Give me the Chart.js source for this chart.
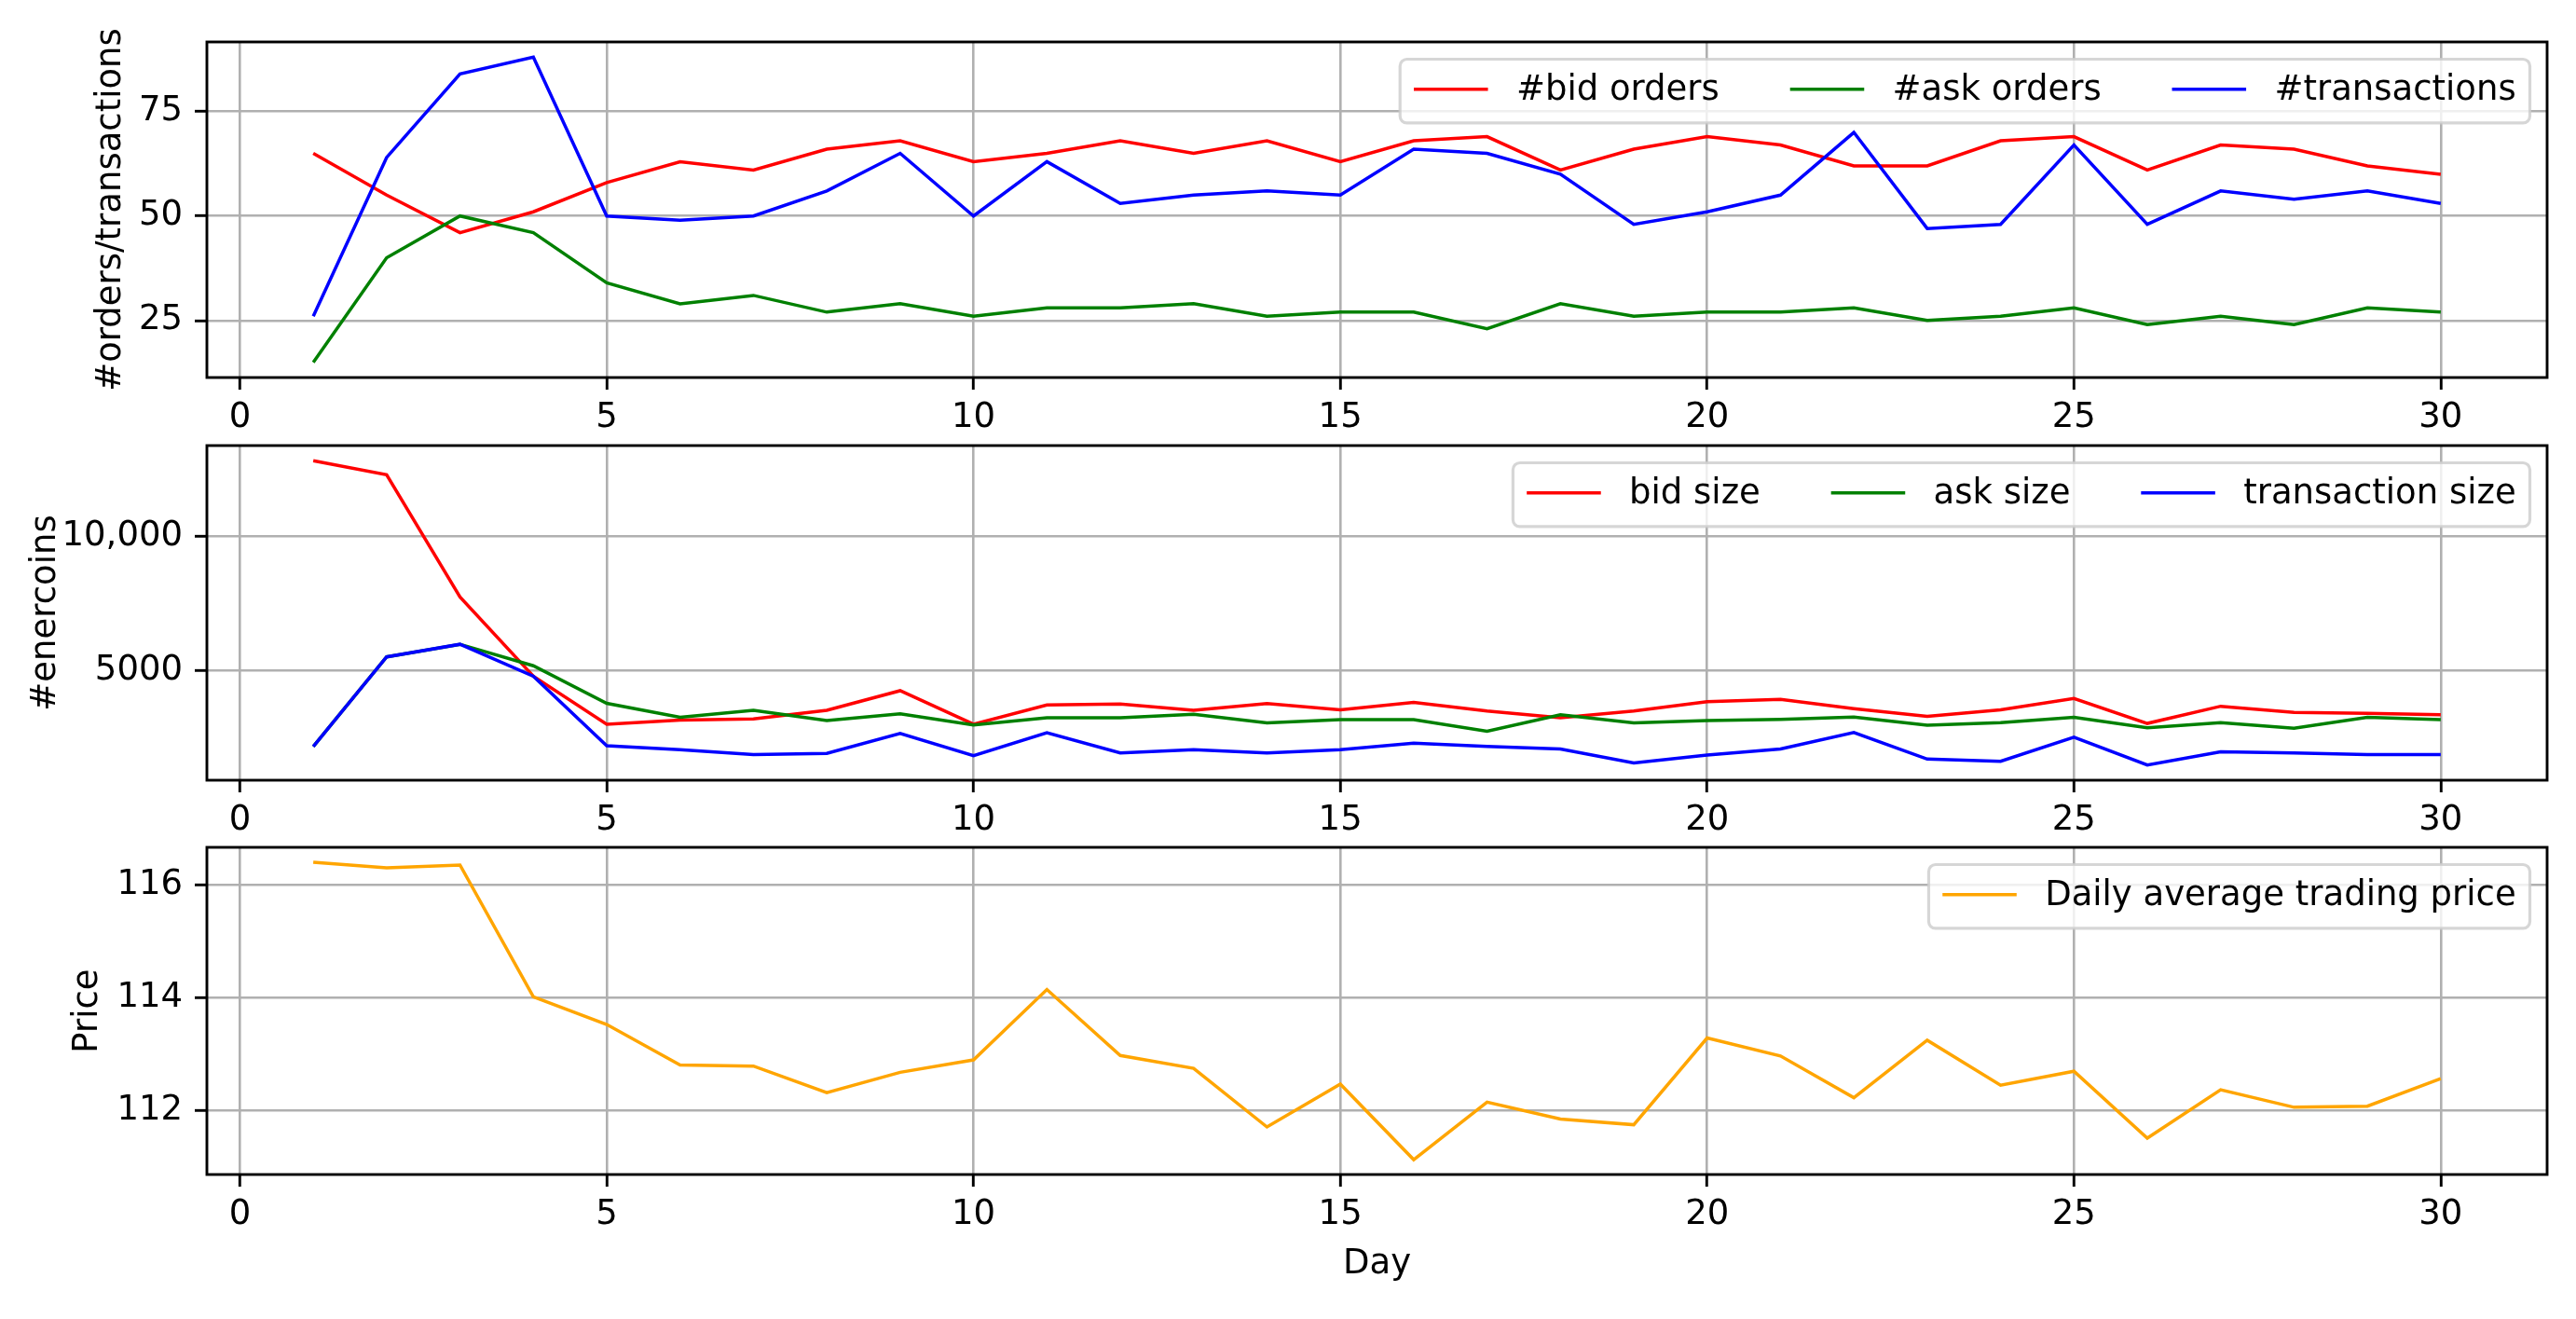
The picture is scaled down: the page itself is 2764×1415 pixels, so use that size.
<!DOCTYPE html>
<html>
<head>
<meta charset="utf-8">
<script src="https://cdn.jsdelivr.net/npm/chart.js@4.4.1/dist/chart.umd.min.js"></script>
<style>
  html, body { margin: 0; padding: 0; background: #fff; }
  #fig { position: relative; width: 2764px; height: 1415px; background: #fff; }
  #fig canvas { position: absolute; left: 0; top: 0; }
</style>
</head>
<body>
<div id="fig">
  <canvas id="orders" width="2764" height="1415"></canvas>
  <canvas id="sizes" width="2764" height="1415"></canvas>
  <canvas id="price" width="2764" height="1415"></canvas>
</div>
<script>
// values
const days = [1, 2, 3, 4, 5, 6, 7, 8, 9, 10, 11, 12, 13, 14, 15, 16, 17, 18, 19, 20, 21, 22, 23, 24, 25, 26, 27, 28, 29, 30];

const bidOrders = [65, 55, 46, 51, 58, 63, 61, 66, 68, 63, 65, 68, 65, 68, 63, 68, 69, 61, 66, 69, 67, 62, 62, 68, 69, 61, 67, 66, 62, 60];
const askOrders = [15, 40, 50, 46, 34, 29, 31, 27, 29, 26, 28, 28, 29, 26, 27, 27, 23, 29, 26, 27, 27, 28, 25, 26, 28, 24, 26, 24, 28, 27];
const transactions = [26, 64, 84, 88, 50, 49, 50, 56, 65, 50, 63, 53, 55, 56, 55, 66, 65, 60, 48, 51, 55, 70, 47, 48, 67, 48, 56, 54, 56, 53];

const bidSize = [12830, 12310, 7750, 4800, 3010, 3160, 3210, 3530, 4260, 3010, 3730, 3760, 3530, 3780, 3550, 3820, 3500, 3250, 3500, 3850, 3940, 3590, 3300, 3550, 3970, 3040, 3680, 3450, 3420, 3360];
const askSize = [2180, 5520, 5990, 5190, 3790, 3270, 3530, 3150, 3400, 2980, 3250, 3250, 3380, 3060, 3180, 3180, 2750, 3360, 3060, 3150, 3190, 3280, 2970, 3070, 3270, 2880, 3070, 2860, 3270, 3180];
const txSize = [2180, 5520, 5990, 4800, 2210, 2060, 1880, 1920, 2670, 1840, 2690, 1940, 2060, 1940, 2060, 2300, 2180, 2090, 1570, 1860, 2090, 2700, 1710, 1630, 2530, 1490, 1980, 1940, 1880, 1880];

const avgPrice = [116.41, 116.31, 116.36, 114.02, 113.53, 112.81, 112.79, 112.32, 112.68, 112.90, 114.15, 112.98, 112.75, 111.71, 112.47, 111.13, 112.15, 111.85, 111.75, 113.29, 112.97, 112.23, 113.25, 112.45, 112.70, 111.51, 112.37, 112.06, 112.08, 112.57];

const dayTicks = [0, 5, 10, 15, 20, 25, 30];
const orderTicks = [25, 50, 75];
const sizeTicks = [5000, 10000];
const sizeTickLabels = ['5000', '10,000'];
const priceTicks = [112, 114, 116];

const FS = 37;
const W = 2764, H = 1415;
const PLOT_LEFT = 222, PLOT_RIGHT = 2733;

Chart.defaults.font.family = '"DejaVu Sans", sans-serif';
Chart.defaults.font.size = FS;
Chart.defaults.color = '#000';

// matplotlib-ish autoscale: 5% margins
function padRange(arrays) {
  const all = [].concat(...arrays);
  const lo = Math.min(...all), hi = Math.max(...all);
  const m = (hi - lo) * 0.05;
  return { min: lo - m, max: hi + m };
}

const framePlugin = {
  id: 'frame',
  afterDatasetsDraw(chart) {
    const { ctx, chartArea: a } = chart;
    ctx.save();
    ctx.strokeStyle = '#000';
    ctx.lineWidth = 2.9;
    ctx.strokeRect(a.left, a.top, a.right - a.left, a.bottom - a.top);
    ctx.restore();
  },
};

const legendPlugin = {
  id: 'mplLegend',
  afterDraw(chart) {
    const { ctx, chartArea: a } = chart;
    const sets = chart.data.datasets;
    const pad = 0.4 * FS, hl = 2.15 * FS, htp = 0.82 * FS, cs = 2.05 * FS, bap = 0.5 * FS;
    ctx.save();
    ctx.font = `${FS}px "DejaVu Sans"`;
    const widths = sets.map(d => ctx.measureText(d.label).width);
    const w = 2 * pad + widths.reduce((s, v) => s + v, 0) + sets.length * (hl + htp) + (sets.length - 1) * cs;
    const h = 2 * pad + 1.05 * FS;
    const right = a.right - bap, top = a.top + bap, left = right - w;
    ctx.beginPath();
    ctx.roundRect(left, top, w, h, 0.2 * FS);
    ctx.fillStyle = 'rgba(255,255,255,0.8)';
    ctx.fill();
    ctx.lineWidth = 3.2;
    ctx.strokeStyle = 'rgba(204,204,204,0.8)';
    ctx.stroke();
    let x = left + pad;
    const cy = top + h / 2;
    sets.forEach((d, i) => {
      ctx.strokeStyle = d.borderColor;
      ctx.lineWidth = d.borderWidth;
      ctx.beginPath();
      ctx.moveTo(x, cy - 2);
      ctx.lineTo(x + hl, cy - 2);
      ctx.stroke();
      x += hl + htp;
      ctx.fillStyle = '#000';
      ctx.textBaseline = 'middle';
      ctx.textAlign = 'left';
      ctx.fillText(d.label, x, cy);
      x += widths[i] + cs;
    });
    ctx.restore();
  },
};

function makePanel(id, p) {
  const xr = padRange([days]);
  const yr = padRange(p.series.map(s => s.data));
  const xH = p.xTitle ? H - p.bottom : 100;
  const datasets = p.series.map((s, i) => ({
    label: s.label,
    data: days.map((d, j) => ({ x: d, y: s.data[j] })),
    borderColor: s.color,
    backgroundColor: s.color,
    borderWidth: 3.5,
    pointRadius: 0,
    tension: 0,
    fill: false,
    order: p.series.length - i, // later series drawn on top, like matplotlib
  }));

  return new Chart(document.getElementById(id), {
    type: 'line',
    data: { datasets },
    plugins: [framePlugin, legendPlugin],
    options: {
      responsive: false,
      devicePixelRatio: 1,
      animation: false,
      events: [],
      layout: {
        padding: { left: 0, right: W - PLOT_RIGHT, top: p.top, bottom: H - p.bottom - xH },
      },
      plugins: { legend: { display: false }, tooltip: { enabled: false } },
      scales: {
        x: {
          type: 'linear',
          bounds: 'data',
          min: xr.min,
          max: xr.max,
          afterBuildTicks: s => { s.ticks = dayTicks.map(v => ({ value: v })); },
          afterFit: s => { s.height = xH; s.paddingLeft = 0; s.paddingRight = 0; s.paddingTop = 0; s.paddingBottom = 0; },
          ticks: { padding: 8, maxRotation: 0, autoSkip: false, callback: v => String(v) },
          grid: { color: '#b0b0b0', lineWidth: 2.6, tickLength: 13, tickColor: '#000', tickWidth: 2.9 },
          border: { display: false },
          title: p.xTitle
            ? { display: true, text: p.xTitle, padding: { top: 0, bottom: 36 } }
            : { display: false },
        },
        y: {
          type: 'linear',
          bounds: 'data',
          min: yr.min,
          max: yr.max,
          afterBuildTicks: s => { s.ticks = p.yTicks.map(v => ({ value: v })); },
          afterFit: s => { s.width = PLOT_LEFT; s.paddingLeft = 0; s.paddingRight = 0; s.paddingTop = 0; s.paddingBottom = 0; },
          ticks: { padding: 13, autoSkip: false, callback: p.yLabel },
          grid: { color: '#b0b0b0', lineWidth: 2.6, tickLength: 13, tickColor: '#000', tickWidth: 2.9 },
          border: { display: false },
          title: { display: true, text: p.yTitle, padding: { top: p.yTitlePad, bottom: 0 } },
        },
      },
    },
  });
}

makePanel('orders', {
  top: 45, bottom: 405,
  yTicks: orderTicks,
  yLabel: v => String(v),
  yTitle: '#orders/transactions',
  yTitlePad: 97,
  series: [
    { label: '#bid orders', data: bidOrders, color: '#ff0000' },
    { label: '#ask orders', data: askOrders, color: '#008000' },
    { label: '#transactions', data: transactions, color: '#0000ff' },
  ],
});

makePanel('sizes', {
  top: 478, bottom: 837,
  yTicks: sizeTicks,
  yLabel: v => sizeTickLabels[sizeTicks.indexOf(v)] ?? String(v),
  yTitle: '#enercoins',
  yTitlePad: 27,
  series: [
    { label: 'bid size', data: bidSize, color: '#ff0000' },
    { label: 'ask size', data: askSize, color: '#008000' },
    { label: 'transaction size', data: txSize, color: '#0000ff' },
  ],
});

makePanel('price', {
  top: 909, bottom: 1260,
  yTicks: priceTicks,
  yLabel: v => String(v),
  yTitle: 'Price',
  yTitlePad: 72,
  xTitle: 'Day',
  series: [
    { label: 'Daily average trading price', data: avgPrice, color: '#ffa500' },
  ],
});
</script>
</body>
</html>
